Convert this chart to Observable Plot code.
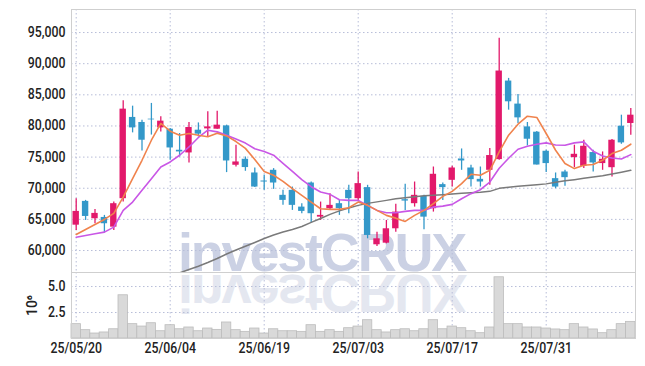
<!DOCTYPE html>
<html><head><meta charset="utf-8">
<script src="https://cdn.jsdelivr.net/npm/d3@7"></script>
<script src="https://cdn.jsdelivr.net/npm/@observablehq/plot@0.6"></script>
<style>
html,body{margin:0;padding:0;background:#fff;}
#wrap{position:relative;width:645px;height:366px;overflow:hidden;}
#wrap > svg{position:absolute;left:0;}
</style></head><body><div id="wrap"></div>
<script>
const dates = ["25/05/20","25/05/21","25/05/22","25/05/23","25/05/26","25/05/27","25/05/28","25/05/29","25/05/30","25/06/02",
"25/06/04","25/06/05","25/06/09","25/06/10","25/06/11","25/06/12","25/06/13","25/06/16","25/06/17","25/06/18",
"25/06/19","25/06/20","25/06/23","25/06/24","25/06/25","25/06/26","25/06/27","25/06/30","25/07/01","25/07/02",
"25/07/03","25/07/04","25/07/07","25/07/08","25/07/09","25/07/10","25/07/11","25/07/14","25/07/15","25/07/16",
"25/07/17","25/07/18","25/07/21","25/07/22","25/07/23","25/07/24","25/07/25","25/07/28","25/07/29","25/07/30",
"25/07/31","25/08/01","25/08/04","25/08/05","25/08/06","25/08/07","25/08/08","25/08/11","25/08/12","25/08/13"];
const openP = [64070,67890,65100,65310,63750,68320,81370,80560,81090,79690,79480,76100,75670,79320,79530,79480,80010,73690,74650,72450,
71160,72880,68860,69660,66970,70840,65360,66710,67520,69660,68320,70100,60920,61180,63490,68160,67520,68690,66710,70580,
71270,74700,73250,71430,72880,74600,87210,83510,79850,79000,75940,71540,72610,74920,73520,75730,73960,73300,79960,80400];
const closeP = [66280,65470,65960,64300,67520,82700,79690,77710,80980,80770,76470,75830,79750,78680,79850,80130,74380,74220,73320,70190,
71000,70840,68050,67250,66280,65910,65640,67250,66710,68320,70740,62420,61880,63490,66170,67940,68860,65360,72240,70100,
73250,74380,71380,71000,75250,88820,83880,81300,77870,73730,73960,70190,71700,75450,76740,74060,74650,77710,77280,81730];
const highP = [68320,68050,66600,65640,67780,84040,83180,80930,83620,81460,79590,78790,80560,80490,82270,82380,80130,76910,75020,73250,
72080,73150,69660,70190,67520,71000,67780,69130,68050,70470,72610,70470,62950,64830,67410,70630,71000,68860,73410,70840,
73520,76310,73690,73410,76370,94080,87640,85070,80560,79100,76100,72450,72880,76910,77710,76100,75830,77820,81730,82810];
const lowP = [63220,64830,64300,62790,63220,67780,78890,75990,78540,79050,74490,75020,74060,78240,78240,79480,72510,73410,72720,70100,
69660,69820,67250,66440,65910,64400,64830,66440,65640,65910,68050,61880,60640,61070,62950,66440,66970,63330,66170,68050,
70190,72880,70190,70190,70470,74490,82540,80400,76790,73730,72510,69930,70300,73300,73150,72610,72880,71800,77060,78510];
const ma5 = [62580,63380,64190,64990,65960,68580,71540,74490,77710,80400,79160,78520,78790,78520,78280,78840,78400,77500,76400,74600,
72700,72080,71110,69930,68860,67780,66710,66600,66600,66870,67780,67250,66440,65640,65200,64670,65640,66440,67520,68690,
69500,70740,72240,72080,72880,75830,78520,80290,81570,81370,78790,76100,73960,73150,73690,73800,74490,75570,76100,77070];
const ma20 = [62140,62420,62690,62950,63750,66440,67780,69660,71540,73410,74220,75300,76630,78150,79320,79050,78520,77900,77250,76340,
75900,75300,74000,72700,71400,70250,69390,69020,68160,68050,68050,67250,66440,66070,66070,66280,66440,66440,66970,67130,
67410,68320,69130,69770,71000,73200,74810,76260,76740,77070,77280,76950,76910,77280,77440,75940,75180,74860,74700,75400];
const ma60 = [null,null,null,null,null,null,null,null,null,null,
54690,56410,56940,57470,58070,58710,59440,60080,60680,61290,
61930,62500,62980,63380,63860,64510,65150,65800,66360,66840,
67250,67570,67810,68050,68300,68480,68640,68790,68870,68960,
69070,69180,69260,69340,69500,69980,70140,70300,70420,70550,
70700,70950,71190,71380,71590,71790,72000,72270,72560,72880];
const volume = [1.38,0.80,0.48,0.58,0.89,4.16,1.38,1.15,1.47,0.70,1.28,0.89,1.06,0.70,0.96,0.83,1.54,0.80,0.64,0.96,
0.48,0.89,0.70,0.70,0.64,1.28,0.64,0.80,0.64,0.99,1.15,1.76,0.80,0.58,0.80,0.89,0.70,0.89,1.76,0.89,
1.15,0.99,0.70,0.51,1.06,5.89,1.38,1.38,1.06,1.06,0.96,0.87,0.80,1.38,1.06,0.87,0.51,0.80,1.38,1.60];
const priceTicks = [60000,65000,70000,75000,80000,85000,90000,95000];
const volTicks = [2.5,5.0];
const dateTickIdx = [0,10,20,30,40,50];

const UP = "#e2196b", DOWN = "#3398c9";
const FONT = "Roboto, 'DejaVu Sans', sans-serif";
const candles = dates.map((d,i)=>({i, date:d, open:openP[i], close:closeP[i], high:highP[i], low:lowP[i],
  color: closeP[i] >= openP[i] ? UP : DOWN}));
const maRows = (arr) => arr.map((v,i)=>({i, v})).filter(d=>d.v!=null);
const volRows = volume.map((v,i)=>({i, v}));
const xDomain = [-0.5, dates.length - 0.5];
const grid = {stroke:"#b7bdd8", strokeOpacity:1, strokeDasharray:"1.5,2.5", strokeWidth:1};
const style = {background:"transparent", fontFamily:FONT, fontSize:"14px", fontWeight:"500", color:"#222", overflow:"visible"};
const tickText = {fill:"#222", fontSize:14, fontWeight:500};

const wrap = document.getElementById("wrap");

// watermark (behind)
const ns = "http://www.w3.org/2000/svg";
const wm = document.createElementNS(ns,"svg");
wm.setAttribute("width",645); wm.setAttribute("height",366);
wm.style.top = "0px";
wm.innerHTML = `<text x="178" y="271" font-family="'Liberation Sans',sans-serif" font-weight="bold" font-size="54" letter-spacing="-2.2" fill="#cbd1e4">investCRUX</text>
<text x="178" y="271" transform="translate(0,546) scale(1,-1)" font-family="'Liberation Sans',sans-serif" font-weight="bold" font-size="54" letter-spacing="-2.2" fill="#e4e7f0">investCRUX</text>`;
wrap.appendChild(wm);

function narrow(svg) {
  svg.querySelectorAll('g[aria-label$="tick label"] text').forEach(t => {
    const tr = t.getAttribute("transform");
    if (tr) t.setAttribute("transform", tr + " scale(0.88,1)");
  });
}

const price = Plot.plot({
  width:645, height:272, marginTop:9, marginBottom:0, marginLeft:71, marginRight:10,
  style,
  x:{type:"linear", domain:xDomain, axis:null},
  y:{domain:[56470,98700], axis:null},
  marks:[
    Plot.gridY(priceTicks, grid),
    Plot.gridX(dateTickIdx, grid),
    Plot.axisY(priceTicks, {tickSize:0, tickPadding:6, tickFormat:d3.format(","), label:null, ...tickText}),
    Plot.ruleX(candles, {x:"i", y1:"low", y2:"high", stroke:"color", strokeWidth:1.3}),
    Plot.rect(candles, {x1:d=>d.i-0.34, x2:d=>d.i+0.34, y1:"open", y2:"close", fill:"color"}),
    Plot.line(maRows(ma60), {x:"i", y:"v", stroke:"#7a7a7a", strokeWidth:1.5, clip:true}),
    Plot.line(maRows(ma20), {x:"i", y:"v", stroke:"#c957e6", strokeWidth:1.6}),
    Plot.line(maRows(ma5), {x:"i", y:"v", stroke:"#f0834d", strokeWidth:1.6}),
    Plot.frame({stroke:"#cfcfcf"})
  ]
});
price.style.top = "0px";
narrow(price);
wrap.appendChild(price);

const vol = Plot.plot({
  width:645, height:94, marginTop:0, marginBottom:28, marginLeft:71, marginRight:10,
  style,
  x:{type:"linear", domain:xDomain, axis:null},
  y:{domain:[0,6.35], axis:null},
  marks:[
    Plot.gridY(volTicks, grid),
    Plot.gridX(dateTickIdx, grid),
    Plot.rect(volRows, {x1:d=>d.i-0.5, x2:d=>d.i+0.5, y1:0, y2:"v", fill:"#d9d9d9", stroke:"#bcbcbc", strokeWidth:0.8}),
    Plot.axisY(volTicks, {tickSize:0, tickPadding:6, tickFormat:d3.format(".1f"), label:null, ...tickText}),
    Plot.axisX(dateTickIdx, {tickSize:0, tickPadding:5, tickFormat:i=>dates[i], label:null, ...tickText}),
    Plot.text(["10⁶"], {frameAnchor:"left", dx:-39, text:d=>d, rotate:-90, textAnchor:"middle", fill:"#222", fontSize:14}),
    Plot.frame({stroke:"#cfcfcf"})
  ]
});
vol.style.top = "272px";
narrow(vol);
wrap.appendChild(vol);
</script></body></html>
